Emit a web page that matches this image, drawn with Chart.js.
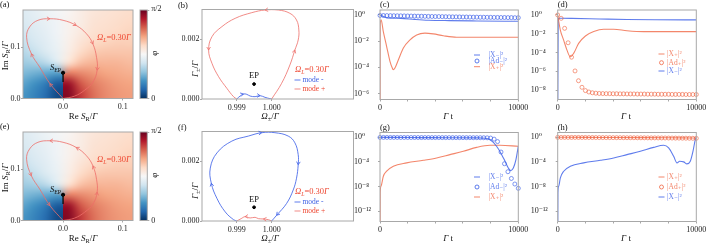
<!DOCTYPE html>
<html>
<head>
<meta charset="utf-8">
<script src="https://cdn.jsdelivr.net/npm/chart.js@4.4.1/dist/chart.umd.min.js"></script>
<style>
  body { margin: 0; background: #fff; }
  #wrap { position: relative; width: 707px; height: 244px; overflow: hidden; }
  #wrap canvas { position: absolute; left: 0; top: 0; }
</style>
</head>
<body>
<div id="wrap"></div>
<script>
// ---------- data ----------
// phase field phi (in units of pi/2), rows bottom -> top
const phiXLeft = [-0.07, -0.05, -0.03, -0.01];
const phiXRight = [0.01, 0.03, 0.05, 0.07, 0.09, 0.11];
const phiY = [0.01, 0.03, 0.05, 0.07, 0.09, 0.11, 0.13, 0.15, 0.17];
const phiLeft = [
  [0.21, 0.17, 0.12, 0.05],
  [0.24, 0.20, 0.15, 0.08],
  [0.28, 0.26, 0.24, 0.22],
  [0.32, 0.33, 0.36, 0.42],
  [0.35, 0.38, 0.42, 0.46],
  [0.38, 0.41, 0.44, 0.47],
  [0.40, 0.43, 0.45, 0.48],
  [0.42, 0.44, 0.46, 0.48],
  [0.43, 0.45, 0.47, 0.49]
];
const phiRight = [
  [0.96, 0.85, 0.78, 0.74, 0.72, 0.71],
  [0.93, 0.81, 0.76, 0.73, 0.71, 0.70],
  [0.76, 0.74, 0.72, 0.70, 0.69, 0.68],
  [0.58, 0.65, 0.67, 0.67, 0.67, 0.66],
  [0.54, 0.60, 0.63, 0.64, 0.64, 0.64],
  [0.53, 0.57, 0.60, 0.61, 0.62, 0.62],
  [0.52, 0.55, 0.58, 0.59, 0.60, 0.61],
  [0.52, 0.54, 0.57, 0.58, 0.59, 0.60],
  [0.51, 0.54, 0.56, 0.57, 0.58, 0.59]
];
// S_R loop (a), (e)
const loopReS = [0, -0.022, -0.039, -0.053, -0.061, -0.056, -0.042, -0.022, 0, 0.022, 0.039, 0.05, 0.056, 0.057, 0.05, 0.036, 0.019, 0];
const loopImS = [0, 0.029, 0.061, 0.087, 0.119, 0.139, 0.152, 0.155, 0.152, 0.142, 0.126, 0.106, 0.08, 0.055, 0.032, 0.016, 0.0045, 0];
const sEP = [0, 0.05];
const cutReS = [0, 0];
const cutImS = [0.05, 0.032];

// eigenvalue trajectories (b)
const bPlusOm = [1.0, 1.000286, 1.000524, 1.000667, 1.000762, 1.000781, 1.000714, 1.000524, 1.00019, 0.99981, 0.999429, 0.998952, 0.998571, 0.998286, 0.99819, 0.998286, 0.998476, 0.998714, 0.998905, 0.999];
const bPlusGa = [0, 0.000525, 0.00114, 0.001642, 0.001978, 0.002313, 0.002648, 0.002872, 0.002983, 0.002983, 0.002894, 0.002704, 0.002425, 0.002089, 0.001642, 0.001196, 0.000749, 0.000358, 0.000078, 0];
const bMinusOm = [0.999, 0.999095, 0.99919, 0.999286, 0.999381, 0.999524, 0.999667, 0.99981, 0.999952, 1.0];
const bMinusGa = [0, 0.0001, 0.000168, 0.000156, 0.0001, 0.000078, 0.000112, 0.000056, 0.000011, 0];
const bEP = [0.999495, 0.0005];
// eigenvalue trajectories (f)
const fMinusOm = [0.999, 0.998905, 0.998667, 0.998429, 0.998267, 0.998238, 0.998429, 0.998857, 0.999333, 0.999714, 1.000095, 1.000476, 1.000667, 1.000762, 1.000762, 1.000714, 1.000619, 1.000429, 1.000143, 1.0];
const fMinusGa = [0, 0.000045, 0.000305, 0.000757, 0.001266, 0.001774, 0.002282, 0.002678, 0.002847, 0.00296, 0.00296, 0.002847, 0.002621, 0.002226, 0.001887, 0.001435, 0.00104, 0.000588, 0.000192, 0];
const fPlusOm = [1.0, 0.999905, 0.999762, 0.999619, 0.999524, 0.999381, 0.999238, 0.999124, 0.999];
const fPlusGa = [0, 0.000045, 0.000068, 0.000079, 0.000124, 0.000102, 0.000147, 0.000079, 0];
const fEP = [0.999495, 0.00046];

// populations vs time
const adT = [0, 250, 500, 750, 1000, 1250, 1500, 1750, 2000, 2250, 2500, 2750, 3000, 3250, 3500, 3750, 4000, 4250, 4500, 4750, 5000, 5250, 5500, 5750, 6000, 6250, 6500, 6750, 7000, 7250, 7500, 7750, 8000, 8250, 8500, 8750, 9000, 9250, 9500, 9750, 10000];

const cXmT = [0, 500, 1500, 2500, 3500, 5000, 7000, 10000];
const cXm = [1.0, 0.6, 0.55, 0.46, 0.4, 0.37, 0.35, 0.33];
const cAd = [0.92, 0.91, 0.9, 0.89, 0.88, 0.87, 0.86, 0.85, 0.84, 0.83, 0.82, 0.81, 0.8, 0.79, 0.78, 0.77, 0.76, 0.76, 0.75, 0.74, 0.73, 0.72, 0.72, 0.71, 0.7, 0.7, 0.69, 0.68, 0.68, 0.67, 0.67, 0.66, 0.66, 0.65, 0.65, 0.64, 0.64, 0.63, 0.63, 0.62, 0.62];
const cXpT = [0, 15, 80, 240, 480, 720, 890, 960, 1080, 1330, 1690, 2170, 2650, 3250, 3850, 4580, 5540, 6300, 8000, 10000];
const cXp = [1e-12, 0.2, 0.42, 0.054, 3.9e-3, 2.9e-4, 8.9e-5, 6.6e-5, 8.9e-5, 3.8e-4, 3.0e-3, 1.26e-2, 3.0e-2, 4.1e-2, 3.6e-2, 2.6e-2, 2.0e-2, 2.0e-2, 2.0e-2, 2.0e-2];

const dXpT = [0, 190, 430, 670, 910, 1150, 1510, 2000, 2600, 3320, 4040, 5000, 6200, 8000, 10000];
const dXp = [1.0, 0.025, 2.1e-3, 1.8e-4, 3.5e-5, 8.1e-5, 9.5e-4, 5.8e-3, 1.7e-2, 3.0e-2, 3.0e-2, 2.1e-2, 1.7e-2, 1.7e-2, 1.7e-2];
const dAd = [1.0, 0.44, 0.038, 1.1e-3, 3.2e-5, 1.1e-6, 1.0e-7, 2.0e-8, 8.9e-9, 6.3e-9, 5.2e-9, 4.7e-9, 4.4e-9, 4.3e-9, 4.2e-9, 4.2e-9, 4.1e-9, 4.1e-9, 4.0e-9, 4.0e-9, 3.9e-9, 3.9e-9, 3.9e-9, 3.8e-9, 3.8e-9, 3.8e-9, 3.7e-9, 3.7e-9, 3.7e-9, 3.6e-9, 3.6e-9, 3.6e-9, 3.6e-9, 3.5e-9, 3.5e-9, 3.5e-9, 3.5e-9, 3.4e-9, 3.4e-9, 3.4e-9, 3.4e-9];
const dXmT = [0, 40, 200, 1000, 3000, 5000, 7000, 10000];
const dXm = [1e-12, 0.42, 0.45, 0.44, 0.38, 0.33, 0.31, 0.3];

const gXmT = [0, 1000, 3000, 5000, 7000, 7600, 7950, 8430, 8800, 9040, 9280, 9450, 9640, 9830, 10000];
const gXm = [1.0, 0.95, 0.89, 0.83, 0.79, 0.71, 0.43, 0.035, 1.5e-3, 1.26e-4, 1.0e-5, 3.8e-6, 1.0e-5, 2.3e-4, 0.035];
const gAd = [0.95, 0.95, 0.95, 0.94, 0.94, 0.94, 0.93, 0.93, 0.93, 0.92, 0.92, 0.92, 0.91, 0.91, 0.91, 0.9, 0.9, 0.9, 0.89, 0.89, 0.89, 0.88, 0.88, 0.88, 0.87, 0.87, 0.87, 0.86, 0.86, 0.85, 0.84, 0.82, 0.75, 0.5, 0.2, 4e-3, 5e-5, 2.5e-6, 2e-7, 2.5e-8, 5e-9];
const gXpT = [0, 15, 72, 241, 482, 964, 1928, 3133, 4096, 5060, 6024, 6988, 7952, 8675, 10000];
const gXp = [1e-20, 1e-9, 1.1e-8, 4.6e-7, 3.0e-6, 1.9e-5, 6.8e-5, 1.8e-4, 4.4e-4, 1.5e-3, 5.2e-3, 2.3e-2, 5.0e-2, 5.0e-2, 3.5e-2];

const hXpT = [0, 2000, 4000, 6000, 8000, 9000, 10000];
const hXp = [1.0, 0.96, 0.92, 0.88, 0.84, 0.8, 0.75];
const hAd = [0.97, 0.96, 0.96, 0.95, 0.95, 0.94, 0.94, 0.93, 0.93, 0.92, 0.92, 0.91, 0.9, 0.9, 0.89, 0.89, 0.88, 0.87, 0.87, 0.86, 0.85, 0.85, 0.84, 0.83, 0.83, 0.82, 0.81, 0.8, 0.8, 0.79, 0.78, 0.77, 0.76, 0.75, 0.74, 0.73, 0.72, 0.71, 0.7, 0.69, 0.68];
const hXmT = [0, 15, 72, 192, 433, 913, 1875, 3077, 4038, 5000, 5962, 6923, 7644, 8005, 8365, 8606, 8798, 9087, 9327, 9567, 9760, 9928, 10000];
const hXm = [1e-20, 1e-9, 1.1e-8, 2.5e-7, 3.0e-6, 1.9e-5, 6.8e-5, 1.8e-4, 4.4e-4, 1.5e-3, 5.2e-3, 2.3e-2, 5.0e-2, 1.9e-2, 8.1e-4, 6.8e-5, 1.26e-4, 1.0e-4, 4.7e-5, 1.26e-4, 5.2e-3, 0.43, 1.0];

// ticks
const sTicks = [0, 0.1], sTickLabels = ['0.0', '0.1'];
const omTicks = [0.999, 1.0], omTickLabels = ['0.999', '1.000'];
const gaTicks = [0, 0.002], gaTickLabels = ['0.000', '0.002'];
const tTicks = [0, 2000, 4000, 6000, 8000, 10000], tTickLabels = ['0', '', '', '', '', '10000'];
const cTicks = [1, 1e-2, 1e-4, 1e-6], cTickLabels = ['10⁰', '10⁻²', '10⁻⁴', '10⁻⁶'];
const dTicks = [1, 1e-2, 1e-4, 1e-6, 1e-8], dTickLabels = ['10⁰', '10⁻²', '10⁻⁴', '10⁻⁶', '10⁻⁸'];
const ghTicks = [1, 1e-4, 1e-8, 1e-12], ghTickLabels = ['10⁰', '10⁻⁴', '10⁻⁸', '10⁻¹²'];

// ---------- style ----------
const SERIF = '"Liberation Serif", "DejaVu Serif", serif';
const BLUE = 'rgba(60, 95, 232, 0.82)';
const RED = 'rgba(240, 100, 65, 0.78)';
const LOOP_RED = 'rgba(238, 110, 105, 0.8)';
const TXT_RED = '#ee4630';
const TXT_BLUE = '#3f62e4';
const GRAY = '#a8a8a8';
const phiColors = ['#053061', '#2166ac', '#4393c3', '#92c5de', '#d1e5f0', '#f7f7f7', '#fddbc7', '#f4a582', '#d6604d', '#b2182b', '#67001f'];
const CELL = 0.02;
const CW = 760, CH = 244, XH = 20;

Chart.defaults.font.family = SERIF;

const pts = (xs, ys) => xs.map((x, i) => ({x: x, y: ys[i]}));

// text with italic / sub / superscript pieces
function rich(ctx, parts, x, y, size, color, align, rot) {
  ctx.save();
  ctx.translate(x, y);
  if (rot) ctx.rotate(rot);
  const segs = parts.map(([t, s]) => {
    const small = s.includes('sub') || s.includes('sup');
    const font = (s.includes('i') ? 'italic ' : '') + (small ? size * 0.7 : size) + 'px ' + SERIF;
    ctx.font = font;
    return {t: t, font: font, w: ctx.measureText(t).width, dy: s.includes('sub') ? size * 0.3 : s.includes('sup') ? -size * 0.4 : 0};
  });
  const total = segs.reduce((a, s) => a + s.w, 0);
  let cx = align === 'center' ? -total / 2 : align === 'right' ? -total : 0;
  ctx.fillStyle = color;
  ctx.textBaseline = 'middle';
  segs.forEach(s => { ctx.font = s.font; ctx.fillText(s.t, cx, s.dy); cx += s.w; });
  ctx.restore();
}

function hexRgb(h) { return [1, 3, 5].map(k => parseInt(h.substr(k, 2), 16)); }
function cmap(v) {
  const p = Math.max(0, Math.min(1, v)) * (phiColors.length - 1);
  const i = Math.min(phiColors.length - 2, Math.floor(p)), f = p - i;
  const a = hexRgb(phiColors[i]), b = hexRgb(phiColors[i + 1]);
  return a.map((c, k) => Math.round(c + (b[k] - c) * f));
}
function gridImage(vals) {
  const ny = vals.length, nx = vals[0].length;
  const c = document.createElement('canvas');
  c.width = nx; c.height = ny;
  const g = c.getContext('2d');
  const img = g.createImageData(nx, ny);
  vals.forEach((row, j) => row.forEach((v, i) => {
    const k = ((ny - 1 - j) * nx + i) * 4;
    const col = cmap(v);
    img.data[k] = col[0]; img.data[k + 1] = col[1]; img.data[k + 2] = col[2]; img.data[k + 3] = 255;
  }));
  g.putImageData(img, 0, 0);
  return c;
}

// ---------- plugins ----------
const framePlugin = {
  id: 'frame',
  afterDatasetsDraw(chart) {
    const {ctx, chartArea: a} = chart;
    ctx.save();
    ctx.strokeStyle = GRAY;
    ctx.lineWidth = 1;
    ctx.strokeRect(a.left, a.top, a.right - a.left, a.bottom - a.top);
    ctx.restore();
  }
};

const arrowPlugin = {
  id: 'arrows',
  afterDatasetsDraw(chart) {
    const ctx = chart.ctx;
    chart.data.datasets.forEach((ds, di) => {
      if (!ds.arrowAt) return;
      const el = chart.getDatasetMeta(di).data;
      ctx.save();
      ctx.strokeStyle = ds.borderColor;
      ctx.lineWidth = 1;
      ds.arrowAt.forEach(i => {
        const p = el[i], a = el[Math.max(i - 1, 0)], b = el[Math.min(i + 1, el.length - 1)];
        let ang = Math.atan2(b.y - a.y, b.x - a.x);
        if (ds.arrowBack) ang += Math.PI;
        const L = 3.5;
        ctx.beginPath();
        ctx.moveTo(p.x - L * Math.cos(ang - 0.55), p.y - L * Math.sin(ang - 0.55));
        ctx.lineTo(p.x, p.y);
        ctx.lineTo(p.x - L * Math.cos(ang + 0.55), p.y - L * Math.sin(ang + 0.55));
        ctx.stroke();
      });
      ctx.restore();
    });
  }
};

function textPlugin(items) {
  return {
    id: 'texts',
    afterDraw(chart) {
      items.forEach(it => {
        let x = it.x, y = it.y;
        if (it.at) {
          x = chart.scales.x.getPixelForValue(it.at[0]) + (it.dx || 0);
          y = chart.scales.y.getPixelForValue(it.at[1]) + (it.dy || 0);
        }
        rich(chart.ctx, it.parts, x, y, it.size || 9, it.color || '#111', it.align || 'left', it.rot || 0);
      });
    }
  };
}

function legendPlugin(mx, tx, ys, order) {
  return {
    id: 'panelLegend',
    afterDraw(chart) {
      const ctx = chart.ctx;
      order.forEach((di, k) => {
        const ds = chart.data.datasets[di], y = ys[k];
        ctx.save();
        ctx.strokeStyle = ds.borderColor;
        ctx.lineWidth = 1;
        ctx.beginPath();
        if (ds.showLine === false) ctx.arc(mx, y, 2, 0, Math.PI * 2);
        else { ctx.moveTo(mx - 3, y); ctx.lineTo(mx + 3, y); }
        ctx.stroke();
        ctx.fillStyle = ds.textColor || ds.borderColor;
        ctx.font = '7.5px ' + SERIF;
        ctx.textBaseline = 'middle';
        ctx.fillText(ds.label, tx, y);
        ctx.restore();
      });
    }
  };
}

// phase map: one smooth image above S_EP, split along the cut below it
function heatPlugin() {
  let imgs = null;
  return {
    id: 'heat',
    beforeDatasetsDraw(chart) {
      if (!imgs) {
        const whole = phiLeft.map((row, j) => row.concat(phiRight[j]));
        imgs = {whole: gridImage(whole), left: gridImage(phiLeft), right: gridImage(phiRight)};
      }
      const {ctx, chartArea: a, scales: {x, y}} = chart;
      const yTop = Math.round(y.getPixelForValue(phiY[phiY.length - 1] + CELL / 2));
      const yBot = Math.round(y.getPixelForValue(phiY[0] - CELL / 2));
      const yEP = Math.round(y.getPixelForValue(sEP[1]));
      const put = (cols, img) => {
        const x0 = Math.round(x.getPixelForValue(cols[0] - CELL / 2));
        const x1 = Math.round(x.getPixelForValue(cols[cols.length - 1] + CELL / 2));
        ctx.drawImage(img, x0, yTop, x1 - x0, yBot - yTop);
      };
      ctx.save();
      ctx.imageSmoothingEnabled = true;
      ctx.imageSmoothingQuality = 'high';
      ctx.beginPath();
      ctx.rect(a.left, a.top, a.right - a.left, yEP - a.top);
      ctx.clip();
      put(phiXLeft.concat(phiXRight), imgs.whole);
      ctx.restore();
      ctx.save();
      ctx.imageSmoothingEnabled = true;
      ctx.imageSmoothingQuality = 'high';
      ctx.beginPath();
      ctx.rect(a.left, yEP, a.right - a.left, a.bottom - yEP);
      ctx.clip();
      put(phiXLeft, imgs.left);
      put(phiXRight, imgs.right);
      ctx.restore();
    },
    afterDraw(chart) {
      const {ctx, chartArea: a} = chart;
      const L = 140, R = 147.3;
      ctx.save();
      const g = ctx.createLinearGradient(0, a.bottom, 0, a.top);
      phiColors.forEach((c, i) => g.addColorStop(i / (phiColors.length - 1), c));
      ctx.fillStyle = g;
      ctx.fillRect(L, a.top, R - L, a.bottom - a.top);
      ctx.strokeStyle = GRAY;
      ctx.lineWidth = 1;
      ctx.strokeRect(L, a.top, R - L, a.bottom - a.top);
      ctx.beginPath();
      ctx.moveTo(R, a.top + 0.5); ctx.lineTo(R + 2, a.top + 0.5);
      ctx.moveTo(R, a.bottom); ctx.lineTo(R + 2, a.bottom);
      ctx.stroke();
      ctx.restore();
      rich(ctx, [['π/2', '']], R + 4, a.top - 1, 8, '#222', 'left');
      rich(ctx, [['0', '']], R + 4, a.bottom, 8, '#222', 'left');
      rich(ctx, [['φ', '']], R + 7.5, (a.top + a.bottom) / 2 - 1, 9, '#222', 'center', -Math.PI / 2);
    }
  };
}

// ---------- chart factory ----------
function makeChart(o) {
  const cv = document.createElement('canvas');
  cv.width = CW; cv.height = CH;
  cv.style.width = CW + 'px'; cv.style.height = CH + 'px';
  document.getElementById('wrap').appendChild(cv);
  const a = o.area;
  const tickFont = {family: SERIF, size: 8};
  return new Chart(cv, {
    type: 'scatter',
    data: {datasets: o.datasets},
    options: {
      responsive: false,
      animation: false,
      events: [],
      layout: {padding: {left: a.l - o.yW, top: a.t, right: CW - a.r, bottom: CH - a.b - XH}},
      plugins: {legend: {display: false}, tooltip: {enabled: false}},
      scales: {
        x: {
          type: 'linear', min: o.x.min, max: o.x.max,
          afterFit: s => { s.height = XH; },
          afterBuildTicks: s => { s.ticks = o.x.ticks.map(v => ({value: v})); },
          ticks: {autoSkip: false, maxRotation: 0, padding: o.x.pad, font: tickFont, color: '#222',
                  callback: (v, i) => o.x.labels[i]},
          grid: {drawOnChartArea: false, tickLength: 2, color: GRAY},
          border: {display: false}
        },
        y: {
          type: o.y.type || 'linear', min: o.y.min, max: o.y.max,
          afterFit: s => { s.width = o.yW; },
          afterBuildTicks: s => { s.ticks = o.y.ticks.map(v => ({value: v})); },
          ticks: {autoSkip: false, padding: o.y.pad, crossAlign: o.y.align || 'near', font: tickFont, color: '#222',
                  callback: (v, i) => o.y.labels[i]},
          grid: {drawOnChartArea: false, tickLength: 2, color: GRAY},
          border: {display: false}
        }
      }
    },
    plugins: [framePlugin, arrowPlugin].concat(o.plugins || [])
  });
}

// ---------- panels ----------
const aXTitle = [['Re ', ''], ['S', 'i'], ['R', 'sub'], ['/', ''], ['Γ', 'i']];
const aYTitle = [['Im ', ''], ['S', 'i'], ['R', 'sub'], ['/', ''], ['Γ', 'i']];
const bXTitle = [['Ω', 'i'], ['±', 'sub'], ['/', ''], ['Γ', 'i']];
const bYTitle = [['Γ', 'i'], ['±', 'sub'], ['/', ''], ['Γ', 'i']];
const tTitle = [['Γ', 'i'], [' t', '']];
const omegaL = [['Ω', 'i'], ['L', 'isub'], ['=0.30', ''], ['Γ', 'i']];
const sEPLabel = [['S', 'i'], ['EP', 'sub']];

function phasePanel(dy, tag, back) {
  makeChart({
    area: {l: 23, t: 10 + dy, r: 133, b: 98.5 + dy},
    yW: 18,
    x: {min: -0.067, max: 0.117, ticks: sTicks, labels: sTickLabels, pad: 2},
    y: {min: 0, max: 0.172, ticks: sTicks, labels: sTickLabels, pad: 0.5},
    datasets: [
      {label: 'S_R', data: pts(loopReS, loopImS), showLine: true, tension: 0.4, borderColor: LOOP_RED,
       borderWidth: 1, pointRadius: 0, arrowAt: [1, 3, 7, 9, 11, 13], arrowBack: back},
      {label: 'cut', data: pts(cutReS, cutImS), showLine: true, borderColor: '#111', borderWidth: 1.4, pointRadius: 0},
      {label: 'S_EP', data: [{x: sEP[0], y: sEP[1]}], pointRadius: 1.6, backgroundColor: '#000', borderColor: '#000'}
    ],
    plugins: [heatPlugin(), textPlugin([
      {parts: [[tag, '']], x: 0, y: 5 + dy, size: 8.5},
      {parts: aXTitle, x: 83, y: 116.5 + dy, align: 'center'},
      {parts: aYTitle, x: 5.5, y: 56 + dy, align: 'center', rot: -Math.PI / 2},
      {parts: omegaL, x: 97, y: 38 + dy, color: TXT_RED, size: 8.5},
      {parts: sEPLabel, at: sEP, dx: -2, dy: -5, align: 'right', size: 8.5}
    ])]
  });
}

function eigenPanel(dy, tag, loop, wiggle, ep, order) {
  makeChart({
    area: {l: 202, t: 9.5 + dy, r: 353.5, b: 99 + dy},
    yW: 20,
    x: {min: 0.998, max: 1.00235, ticks: omTicks, labels: omTickLabels, pad: 2},
    y: {min: 0, max: 0.003, ticks: gaTicks, labels: gaTickLabels, pad: 0.5},
    datasets: [loop, wiggle,
      {label: 'EP', data: [{x: ep[0], y: ep[1]}], pointRadius: 1.4, backgroundColor: '#000', borderColor: '#000'}],
    plugins: [legendPlugin(297.5, 302.5, [80 + dy, 89 + dy], order), textPlugin([
      {parts: [[tag, '']], x: 178, y: 6 + dy, size: 8.5},
      {parts: bXTitle, x: 270, y: 117 + dy, align: 'center'},
      {parts: bYTitle, x: 195.5, y: 69 + dy, align: 'center', rot: -Math.PI / 2},
      {parts: omegaL, x: 295, y: 70 + dy, color: TXT_RED, size: 8.5},
      {parts: [['EP', '']], at: ep, dy: -8, align: 'center', size: 8.5}
    ])]
  });
}

function timePanel(o) {
  makeChart({
    area: {l: o.l, t: o.t, r: o.r, b: o.b},
    yW: o.yW,
    x: {min: 0, max: 10000, ticks: tTicks, labels: tTickLabels, pad: 1.5},
    y: {type: 'logarithmic', min: o.ymin, max: o.ymax, ticks: o.ticks, labels: o.labels, pad: 0, align: 'far'},
    datasets: o.datasets,
    plugins: [legendPlugin(o.mx, o.tx, o.ly, [0, 1, 2]), textPlugin([
      {parts: [[o.tag, '']], x: o.l, y: o.t - 5, size: 8.5},
      {parts: tTitle, x: (o.l + o.r) / 2 - 1, y: o.b + 17.5, align: 'center'}
    ])]
  });
}

const lineDs = (label, xs, ys, color) => ({label: label, data: pts(xs, ys), showLine: true, cubicInterpolationMode: 'monotone',
  borderColor: color, borderWidth: 1.1, pointRadius: 0});
const circDs = (label, xs, ys, color) => ({label: label, data: pts(xs, ys), showLine: false, pointRadius: 2,
  pointBorderWidth: 0.8, borderColor: color, backgroundColor: 'rgba(0,0,0,0)', clip: 3});

// (a) and (e)
phasePanel(0, '(a)', false);
phasePanel(122, '(e)', true);

// (b)
eigenPanel(0, '(b)',
  {label: 'mode +', data: pts(bPlusOm, bPlusGa), showLine: true, tension: 0.4, borderColor: LOOP_RED, textColor: TXT_RED,
   borderWidth: 1, pointRadius: 0, arrowAt: [3, 9, 14]},
  {label: 'mode -', data: pts(bMinusOm, bMinusGa), showLine: true, tension: 0.4, borderColor: BLUE, textColor: TXT_BLUE,
   borderWidth: 1, pointRadius: 0, arrowAt: [2, 6]},
  bEP, [1, 0]);
// (f)
eigenPanel(122, '(f)',
  {label: 'mode -', data: pts(fMinusOm, fMinusGa), showLine: true, tension: 0.4, borderColor: BLUE, textColor: TXT_BLUE,
   borderWidth: 1, pointRadius: 0, arrowAt: [4, 9, 14, 18]},
  {label: 'mode +', data: pts(fPlusOm, fPlusGa), showLine: true, tension: 0.4, borderColor: LOOP_RED, textColor: TXT_RED,
   borderWidth: 1, pointRadius: 0, arrowAt: [2, 6]},
  fEP, [0, 1]);

// (c)
timePanel({tag: '(c)', l: 380, t: 10, r: 518.3, b: 99.5, yW: 26, ymin: 3.5e-7, ymax: 2.4,
  ticks: cTicks, labels: cTickLabels, mx: 477, tx: 488.5, ly: [55, 61, 66.7],
  datasets: [lineDs('|X₋|²', cXmT, cXm, BLUE), circDs('|Ad₋|²', adT, cAd, BLUE), lineDs('|X₊|²', cXpT, cXp, RED)]});
// (d)
timePanel({tag: '(d)', l: 557.7, t: 10, r: 696.3, b: 99.5, yW: 27, ymin: 1e-9, ymax: 3.4,
  ticks: dTicks, labels: dTickLabels, mx: 661.5, tx: 667, ly: [54, 62.7, 71],
  datasets: [lineDs('|X₊|²', dXpT, dXp, RED), circDs('|Ad₊|²', adT, dAd, RED), lineDs('|X₋|²', dXmT, dXm, BLUE)]});
// (g)
timePanel({tag: '(g)', l: 380, t: 132.5, r: 518.3, b: 221.5, yW: 26, ymin: 2e-14, ymax: 6,
  ticks: ghTicks, labels: ghTickLabels, mx: 477, tx: 488.5, ly: [177, 187, 197],
  datasets: [lineDs('|X₋|²', gXmT, gXm, BLUE), circDs('|Ad₋|²', adT, gAd, BLUE), lineDs('|X₊|²', gXpT, gXp, RED)]});
// (h)
timePanel({tag: '(h)', l: 557.7, t: 132.5, r: 696.3, b: 221.5, yW: 27, ymin: 2e-14, ymax: 6,
  ticks: ghTicks, labels: ghTickLabels, mx: 661.5, tx: 667, ly: [177, 187, 197],
  datasets: [lineDs('|X₊|²', hXpT, hXp, RED), circDs('|Ad₊|²', adT, hAd, RED), lineDs('|X₋|²', hXmT, hXm, BLUE)]});
</script>
</body>
</html>
